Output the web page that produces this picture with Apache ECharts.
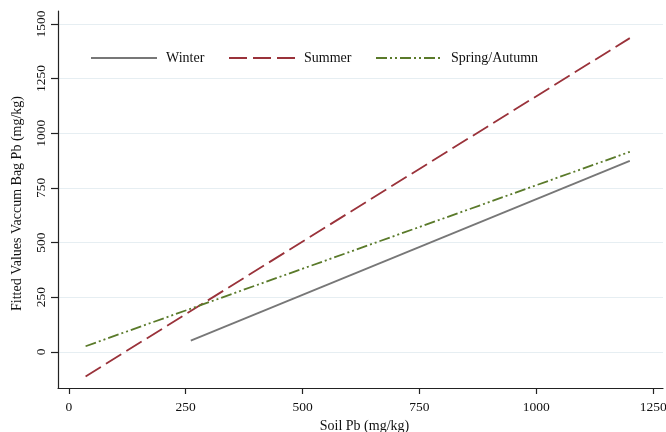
<!DOCTYPE html>
<html>
<head>
<meta charset="utf-8">
<script src="https://cdn.jsdelivr.net/npm/echarts@6/dist/echarts.min.js"></script>
<style>
  html, body { margin: 0; padding: 0; background: #ffffff; }
  #chart { width: 666px; height: 432px; }
</style>
</head>
<body>
<div id="chart"></div>
<script>
// Fitted lines: vacuum bag Pb against soil Pb, by season
const seriesNames = ['Winter', 'Summer', 'Spring/Autumn'];
const winterX = [261, 1200];
const winterY = [52, 874];
const summerX = [36, 1200];
const summerY = [-112, 1435];
const springX = [36, 1200];
const springY = [26, 915];
const xTicks = [0, 250, 500, 750, 1000, 1250];
const yTicks = [0, 250, 500, 750, 1000, 1250, 1500];

const FONT = 'Liberation Serif';
const pairs = (xs, ys) => xs.map((x, i) => [x, ys[i]]);
const plain = v => String(v);

const lineDefs = [
  { name: seriesNames[0], data: pairs(winterX, winterY), color: '#777777', type: 'solid' },
  { name: seriesNames[1], data: pairs(summerX, summerY), color: '#9a323a', type: [18, 6] },
  { name: seriesNames[2], data: pairs(springX, springY), color: '#5a7a2a', type: [11, 3, 2, 3, 2, 3] }
];

const legendLeft = [90, 228, 375];

const chart = echarts.init(document.getElementById('chart'), null, { renderer: 'canvas' });

chart.setOption({
  backgroundColor: '#ffffff',
  animation: false,
  textStyle: { fontFamily: FONT },
  grid: { left: 58, top: 11, width: 605, height: 377, containLabel: false, outerBoundsMode: 'none' },
  legend: lineDefs.map((d, i) => ({
    data: [d.name],
    left: legendLeft[i],
    top: 51,
    padding: 0,
    itemWidth: 66,
    itemHeight: 14,
    itemStyle: { opacity: 0 },
    textStyle: { fontFamily: FONT, fontSize: 14, color: '#111', padding: [0, 0, 0, 4] }
  })),
  xAxis: {
    type: 'value',
    min: -23,
    max: 1271,
    name: 'Soil Pb (mg/kg)',
    nameLocation: 'middle',
    nameGap: 27,
    nameTextStyle: { fontFamily: FONT, fontSize: 14, color: '#111', padding: [0, 0, 0, 8] },
    axisLine: { show: true, onZero: false, lineStyle: { color: '#222', width: 1.2 } },
    axisTick: { show: true, length: 6, customValues: xTicks, lineStyle: { color: '#222', width: 1.2 } },
    axisLabel: { customValues: xTicks, formatter: plain, margin: 12, fontFamily: FONT, fontSize: 13.5, color: '#111' },
    splitLine: { show: false }
  },
  yAxis: {
    type: 'value',
    min: -165,
    max: 1559,
    name: 'Fitted Values Vaccum Bag Pb (mg/kg)',
    nameLocation: 'middle',
    nameGap: 34,
    nameTextStyle: { fontFamily: FONT, fontSize: 14, color: '#111', padding: [0, 8, 0, 0] },
    axisLine: { show: true, onZero: false, lineStyle: { color: '#222', width: 1.2 } },
    axisTick: { show: true, length: 7, customValues: yTicks, lineStyle: { color: '#222', width: 1.2 } },
    axisLabel: { customValues: yTicks, formatter: plain, rotate: 90, margin: 10, fontFamily: FONT, fontSize: 13.5, color: '#111' },
    splitLine: { show: true, lineStyle: { color: '#e6eef2', width: 1.2 } }
  },
  series: lineDefs.map(d => ({
    name: d.name,
    type: 'line',
    data: d.data,
    symbol: 'none',
    showSymbol: false,
    color: d.color,
    lineStyle: { color: d.color, width: 1.8, type: d.type },
    emphasis: { disabled: true }
  }))
});
</script>
</body>
</html>
